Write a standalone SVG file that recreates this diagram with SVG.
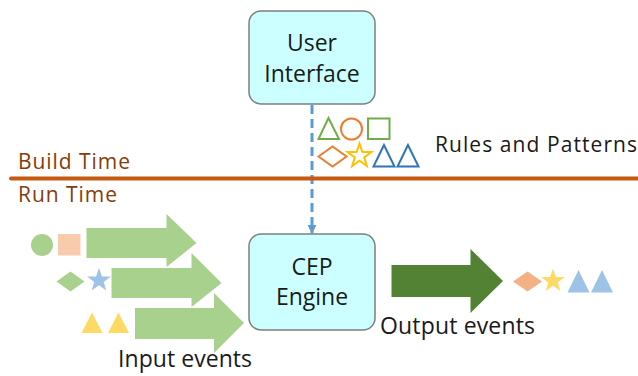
<svg xmlns="http://www.w3.org/2000/svg" width="638" height="376" viewBox="0 0 638 376">
<style>
.box{fill:#ccffff;stroke:#7f7f7f;stroke-width:1.5}
.t{font-family:"Open Sans","Liberation Sans",sans-serif;fill:#1a1a1a}
.ph{font-family:"Open Sans","Liberation Sans",sans-serif;fill:#843c0c;font-size:21px}
.in{fill:#a9d18e}
</style>
<defs>
<marker id="ah" viewBox="0 0 10 10" refX="9" refY="5" markerWidth="3" markerHeight="3.6" orient="auto" markerUnits="strokeWidth">
<path d="M0,0 L10,5 L0,10 z" fill="#5b9bd5"/>
</marker>
</defs>
<rect width="638" height="376" fill="#ffffff"/>

<g id="connectors">
<line x1="312" y1="105" x2="312" y2="233" stroke="#5b9bd5" stroke-width="3" stroke-dasharray="9,5" marker-end="url(#ah)"/>
</g>

<g id="phase-line">
<line x1="11" y1="178.5" x2="638" y2="178.5" stroke="#c55a11" stroke-width="4" stroke-linecap="round"/>
<text class="ph" x="18" y="169" textLength="112">Build Time</text>
<text class="ph" x="18" y="202" textLength="99">Run Time</text>
</g>

<g id="user-interface">
<rect class="box" x="249" y="11" width="126" height="93" rx="12"/>
<text class="t" x="312" y="51" font-size="23" text-anchor="middle">User</text>
<text class="t" x="312" y="82" font-size="23" text-anchor="middle">Interface</text>
</g>

<g id="cep-engine">
<rect class="box" x="249" y="234" width="126" height="96" rx="12"/>
<text class="t" x="312" y="275" font-size="23" text-anchor="middle">CEP</text>
<text class="t" x="312" y="305" font-size="23" text-anchor="middle">Engine</text>
</g>

<g id="rules-patterns" fill="none" stroke-width="2">
<polygon points="328.5,118 318.5,139 339,139" stroke="#70ad47"/>
<circle cx="351.5" cy="129" r="10.5" stroke="#ed7d31"/>
<rect x="368" y="118.5" width="21.5" height="20.5" stroke="#70ad47"/>
<polygon points="318.5,156.5 332.5,146.5 346.5,156.5 332.5,166.5" stroke="#ed7d31"/>
<polygon points="359.5,143.5 362.4,152 371.4,152 364.2,157.4 366.8,166 359.5,160.8 352.2,166 354.8,157.4 347.6,152 356.6,152" stroke="#ffc000"/>
<polygon points="384,145 373.5,166.5 394.5,166.5" stroke="#2e75b6"/>
<polygon points="408,145 397.5,166.5 418.5,166.5" stroke="#2e75b6"/>
<text class="t" x="435" y="152" font-size="21" stroke="none" fill="#1a1a1a" textLength="202">Rules and Patterns</text>
</g>

<g id="input-events">
<circle cx="42" cy="245" r="11" fill="#a9d18e"/>
<rect x="58" y="234" width="22.5" height="21.5" fill="#f8cbad"/>
<polygon points="56.5,281.5 70.5,271.5 84.5,281.5 70.5,291.5" fill="#a9d18e"/>
<polygon points="99,268 101.9,276.5 110.9,276.5 103.7,281.9 106.3,290.5 99,285.3 91.7,290.5 94.3,281.9 87.1,276.5 96.1,276.5" fill="#9dc3e6"/>
<polygon points="92,312.5 81.5,333 102.5,333" fill="#ffd966"/>
<polygon points="118.5,312.5 108,333 129,333" fill="#ffd966"/>
<polygon class="in" points="86.5,228 166.5,228 166.5,214 196.5,243 166.5,267 166.5,258 86.5,258"/>
<polygon class="in" points="111.5,268 191.5,268 191.5,253 221.5,283 191.5,307 191.5,298 111.5,298"/>
<polygon class="in" points="135,308 214,308 214,293 244,323 214,353 214,339 135,339"/>
<text class="t" x="118" y="367" font-size="23" textLength="134">Input events</text>
</g>

<g id="output-events">
<polygon points="391.5,265 470.5,265 470.5,249 503,281 470.5,313 470.5,297 391.5,297" fill="#548235"/>
<polygon points="513,281.5 527.5,271.5 542,281.5 527.5,291.5" fill="#f4b183"/>
<polygon points="553,268.5 555.9,277 564.9,277 557.7,282.4 560.3,291 553,285.8 545.7,291 548.3,282.4 541.1,277 550.1,277" fill="#ffd966"/>
<polygon points="578.5,270 567.5,292.5 589.5,292.5" fill="#9dc3e6"/>
<polygon points="602,270 591,292.5 613,292.5" fill="#9dc3e6"/>
<text class="t" x="380" y="334" font-size="23" textLength="155">Output events</text>
</g>
</svg>
